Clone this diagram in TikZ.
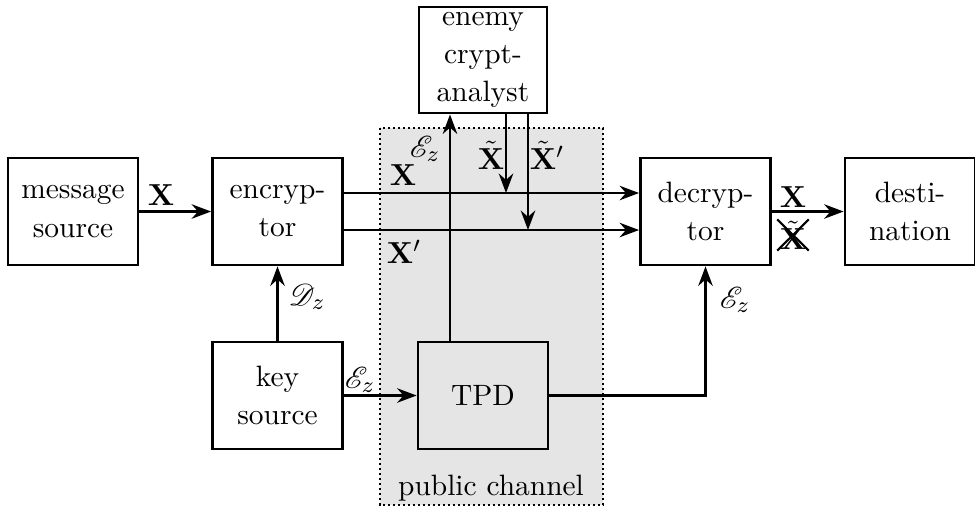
\documentclass[tikz,border=0pt]{standalone}
\usepackage{amsmath,mathrsfs}
\usetikzlibrary{arrows.meta}
\begin{document}
\begin{tikzpicture}[x=0.36pt,y=-0.36pt,
  box/.style={draw,line width=1pt,align=center,inner sep=0pt,
    minimum width=46.8pt,minimum height=38.5pt,
    font=\fontsize{10.6}{13.7}\selectfont},
  arr/.style={line width=1pt,-{Stealth[length=7pt,width=5.2pt]}},
  lbl/.style={inner sep=0pt,font=\fontsize{11}{13}\selectfont},
  strike/.style={line width=0.75pt},
  region/.style={fill=gray!20,line width=0.8pt,densely dotted}]
\useasboundingbox (0,0) rectangle (975,508);
% public channel region
\draw[region] (380,128) rectangle (603,505);
\node[inner sep=0pt,font=\fontsize{10.6}{12}\selectfont] (pc) at (491,488) {public channel};
% boxes
\node[box] (msg) at (73,211.5) {message\\source};
\node[box] (enc) at (277.5,211.5) {encryp-\\tor};
\node[box] (dec) at (705.5,211.5) {decryp-\\tor};
\node[box] (dest) at (910,211.5) {desti-\\nation};
\node[box,minimum width=46.1pt,minimum height=38.2pt,fill=white] (enemy) at (483,60) {enemy\\crypt-\\analyst};
\node[box] (key) at (277.5,395.5) {key\\source};
\node[box,fill=gray!20] (tpd) at (483,395.5) {TPD};
% helper coordinates for the two channel lines
\coordinate (l1) at ([yshift=6.66pt]enc.east);
\coordinate (l2) at ([yshift=-6.66pt]enc.east);
% connectors
\draw[arr] (msg.east) -- (enc.west);
\draw[arr] (l1) -- (l1 -| dec.west);
\draw[arr] (l2) -- (l2 -| dec.west);
\draw[arr] (key.north) -- (enc.south);
\draw[arr] (key.east) -- (tpd.west);
\draw[arr] ([xshift=-11.88pt]tpd.north) -- ([xshift=-11.88pt]enemy.south);
\draw[arr] ([xshift=8.28pt]enemy.south) -- ([xshift=8.28pt]enemy.south |- l1);
\draw[arr] ([xshift=16.2pt]enemy.south) -- ([xshift=16.2pt]enemy.south |- l2);
\draw[arr] (tpd.east) -| (dec.south);
\draw[arr] (dec.east) -- (dest.west);
% labels
\node[lbl] (lx1) at (161,195) {$\mathbf{X}$};
\node[lbl] (ld) at (307,297) {$\mathscr{D}_z$};
\node[lbl] (le1) at (360,380) {$\mathscr{E}_z$};
\node[lbl] (le2) at (425,149) {$\mathscr{E}_z$};
\node[lbl] (lx2) at (403,175) {$\mathbf{X}$};
\node[lbl] (lxt) at (491,155) {$\tilde{\mathbf{X}}$};
\node[lbl] (lxtp) at (547,155) {$\tilde{\mathbf{X}}'$};
\node[lbl] (lxp) at (404,252) {$\mathbf{X}'$};
\node[lbl] (lx3) at (793,197) {$\mathbf{X}$};
\node[lbl] (lxc) at (793,235) {$\tilde{\mathbf{X}}$};
\draw[strike] ([shift={(-2,-1)}]lxc.north west) -- ([shift={(2,1)}]lxc.south east);
\draw[strike] ([shift={(-2,1)}]lxc.south west) -- ([shift={(2,-1)}]lxc.north east);
\node[lbl] (le3) at (735,300) {$\mathscr{E}_z$};
\end{tikzpicture}
\end{document}
